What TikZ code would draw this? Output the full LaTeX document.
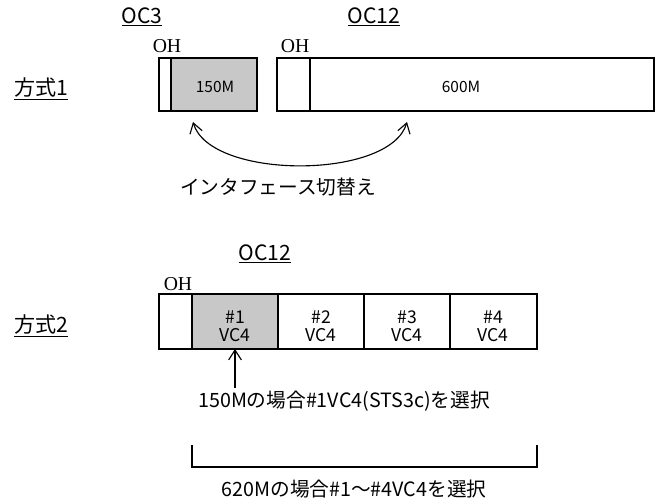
\documentclass[tikz,border=0pt]{standalone}
\usepackage{fontspec}
\setmainfont{Liberation Serif}
\newfontfamily\jpfont{Noto Sans CJK JP}
\usetikzlibrary{arrows.meta}
\definecolor{vcgray}{HTML}{C8C8C8}

\begin{document}
\begin{tikzpicture}[x=0.025cm,y=-0.025cm,
    frame/.style={line width=1.9pt},
    divider/.style={line width=0.8pt},
    title/.style={font=\jpfont\fontsize{15}{18}\selectfont},
    ohlabel/.style={font=\fontsize{14}{16}\selectfont},
    boxtext/.style={font=\jpfont\fontsize{11}{13}\selectfont},
    celltext/.style={font=\jpfont\fontsize{12.5}{12.5}\selectfont,align=center},
    note/.style={font=\jpfont\fontsize{14}{16}\selectfont,inner sep=2pt},
    barb/.style={line width=0.8pt,>={Straight Barb[length=7pt,width=9pt]}}]
  \useasboundingbox (0,0) rectangle (663,500);
  % method 1: OC3 / OC12 side by side
  \node[title] (m1) at (41,89) {\underline{方式1}};
  \node[title] (oc3) at (142,17) {\underline{OC3}};
  \node[title] (oc12a) at (374,17) {\underline{OC12}};
  \node[ohlabel] (oh1) at (167,46) {OH};
  \node[ohlabel] (oh2) at (295,46) {OH};
  \fill[vcgray] (171,58) rectangle (257,111);
  \draw[divider] (171,58) -- (171,111);
  \draw[frame] (159,58) rectangle (257,111);
  \draw[divider] (310,58) -- (310,111);
  \draw[frame] (277,58) rectangle (654,111);
  \node[boxtext] (r150) at (215,87) {150M};
  \node[boxtext] (r600) at (461,87) {600M};
  \coordinate (swl) at (193,122);
  \coordinate (swr) at (407,122);
  \draw[barb,<->] (swl) .. controls (210,180) and (390,180) .. (swr);
  \node[note] (switch) at (278,187) {インタフェース切替え};
  % method 2: one OC12 with four VC4
  \node[title] (m2) at (41,326) {\underline{方式2}};
  \node[title] (oc12b) at (265,254) {\underline{OC12}};
  \node[ohlabel] (oh3) at (178,284) {OH};
  \fill[vcgray] (192,294) rectangle (278,349);
  \foreach \x in {192,278,364,450} \draw[divider] (\x,294) -- (\x,349);
  \draw[frame] (159,294) rectangle (537,349);
  \foreach \i/\x in {1/235,2/321,3/407,4/493}
    \node[celltext] (vc\i) at (\x,326) {\#\i\\VC4};
  \node[note] (sel1) at (344,401) {150Mの場合\#1VC4(STS3c)を選択};
  \coordinate (vc1b) at (235,349);
  \draw[barb,->] (sel1.north -| vc1b) -- (vc1b);
  \coordinate (bl) at (192,445);
  \coordinate (br) at (537,445);
  \draw[divider] (bl) -- ++(0,22) -| (br);
  \node[note] (sel4) at (354,489) {620Mの場合\#1～\#4VC4を選択};
\end{tikzpicture}
\end{document}
